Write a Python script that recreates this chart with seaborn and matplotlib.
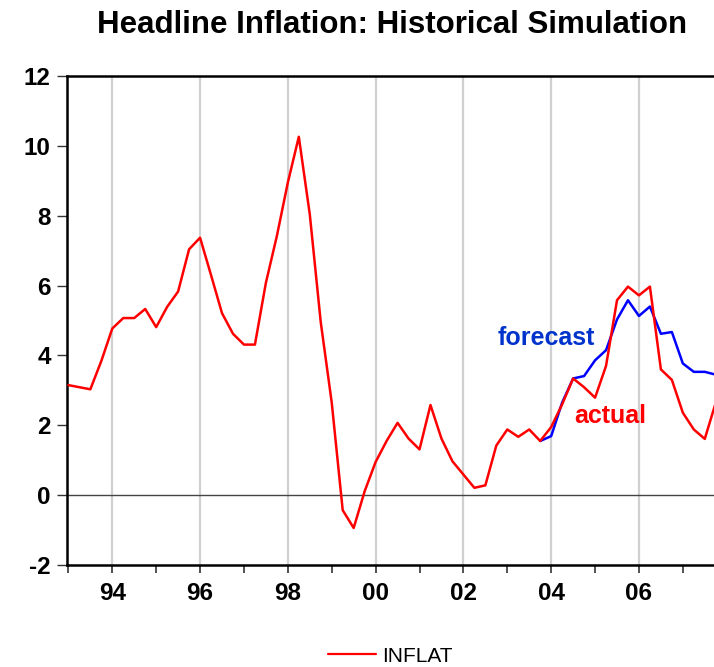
import numpy as np
import pandas as pd
import seaborn as sns
import matplotlib
matplotlib.use("Agg")
import matplotlib.pyplot as plt
from matplotlib.lines import Line2D

# Quarterly headline inflation, 1993Q1 - 2007Q4
start_year = 1993
actual = [3.15, 3.09, 3.03, 3.84, 4.77, 5.07, 5.07, 5.33, 4.81, 5.39,
          5.83, 7.04, 7.37, 6.30, 5.21, 4.62, 4.31, 4.31, 6.08, 7.42,
          8.95, 10.26, 8.04, 4.95, 2.65, -0.43, -0.94, 0.11, 0.95, 1.55,
          2.07, 1.62, 1.31, 2.58, 1.62, 0.97, 0.59, 0.21, 0.28, 1.42,
          1.88, 1.67, 1.88, 1.55, 1.95, 2.60, 3.34, 3.09, 2.79, 3.70,
          5.58, 5.97, 5.72, 5.97, 3.60, 3.30, 2.36, 1.88, 1.61, 2.65]
# Simulated path, starting 2003Q4
forecast_start = 43
forecast = [1.55, 1.69, 2.65, 3.34, 3.41, 3.86, 4.15, 5.03, 5.58, 5.13,
            5.40, 4.62, 4.67, 3.77, 3.53, 3.53, 3.45]

year_ticks = list(range(1993, 2008))
year_labels = [f"{y % 100:02d}" if y % 2 == 0 else "" for y in year_ticks]
grid_years = [1994, 1996, 1998, 2000, 2002, 2004, 2006]

t = start_year + np.arange(len(actual)) / 4.0
df_act = pd.DataFrame({"t": t, "v": actual})
df_fc = pd.DataFrame({"t": t[forecast_start:forecast_start + len(forecast)], "v": forecast})

sns.set_theme(style="white")
plt.rcParams["font.family"] = ["Liberation Sans", "DejaVu Sans"]
plt.rcParams["text.color"] = "black"
plt.rcParams["xtick.color"] = "black"
plt.rcParams["ytick.color"] = "black"

W, H = 714, 667
fig = plt.figure(figsize=(W / 100, H / 100), dpi=100)
ax = fig.add_axes([67.3 / W, 1 - 565 / H, 1 - 67.3 / W, (565 - 76) / H])

for gy in grid_years:
    ax.axvline(gy, color="#d0d0d0", lw=1.6, zorder=0)
ax.axhline(0, color="#444444", lw=1.0, zorder=1)

sns.lineplot(data=df_fc, x="t", y="v", color="#0000ff", lw=1.8, ax=ax, zorder=3)
sns.lineplot(data=df_act, x="t", y="v", color="#ff0000", lw=1.8, ax=ax, zorder=4)

ax.set_xlim(1992.975, 2007.71)
ax.set_ylim(-2, 12)
ax.set_xlabel("")
ax.set_ylabel("")

ax.set_xticks(year_ticks)
ax.set_xticklabels(year_labels, fontsize=17.5, fontweight="bold")
ax.set_yticks(range(-2, 13, 2))
ax.set_yticklabels([str(v) for v in range(-2, 13, 2)], fontsize=17.5, fontweight="bold")
ax.tick_params(axis="x", direction="out", length=6, width=1.2, color="#333333", pad=6,
               bottom=True, labelcolor="black")
ax.tick_params(axis="y", direction="out", length=7, width=1.0, color="#333333", pad=5,
               left=True, labelcolor="black")

for side in ("left", "bottom", "top"):
    ax.spines[side].set_color("black")
    ax.spines[side].set_linewidth(1.8)
ax.spines["right"].set_visible(False)

# series labels placed in figure fractions
fig.text(498 / W, 1 - 345 / H, "forecast", fontsize=18, fontweight="bold",
         color="#0033cc", va="baseline", ha="left")
fig.text(574 / W, 1 - 423 / H, "actual", fontsize=18, fontweight="bold",
         color="#ff0000", va="baseline", ha="left")

fig.text(392 / W, 1 - 33 / H, "Headline Inflation: Historical Simulation",
         fontsize=22.5, fontweight="bold", ha="center", va="baseline", color="black")

handle = Line2D([], [], color="#ff0000", lw=1.6)
fig.legend(handles=[handle], labels=["INFLAT"], loc="center",
           bbox_to_anchor=(390 / W, 1 - 656 / H), frameon=False,
           fontsize=15, handlelength=2.3, handletextpad=0.3, labelcolor="black")

fig.savefig("out.png", dpi=100)
